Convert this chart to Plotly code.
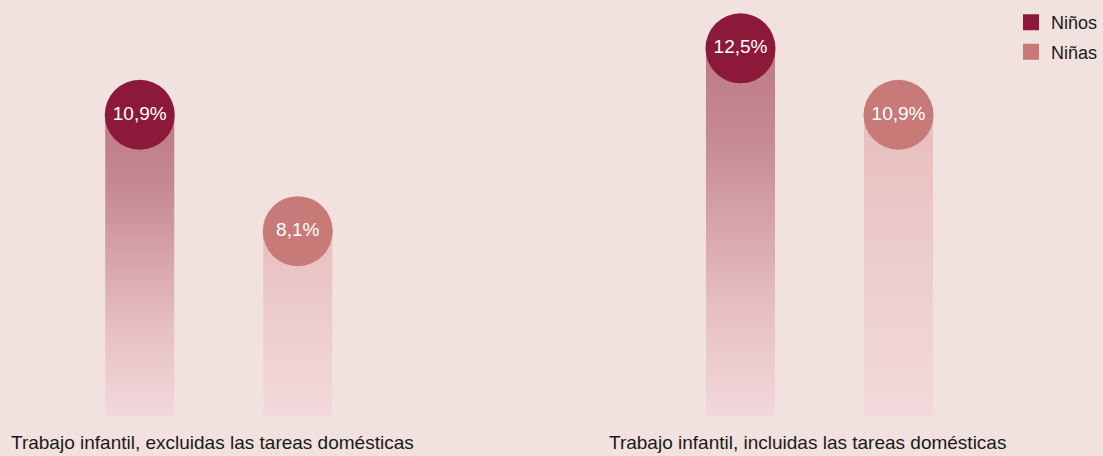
import plotly.graph_objects as go

# ---- data ----
GROUPS = ["Trabajo infantil, excluidas las tareas domésticas",
          "Trabajo infantil, incluidas las tareas domésticas"]
SERIES = ["Niños", "Niñas"]
NINOS = [10.9, 12.5]
NINAS = [8.1, 10.9]

# ---- style ----
BG = "#f1e2df"
CIRCLE_COLORS = {"Niños": "#8d193a", "Niñas": "#c77a78"}
GRADIENTS = {
    "Niños": [[0, "#f2d8db"], [0.3, "#e6bfc1"], [0.75, "#c68a92"], [1, "#bd7b84"]],
    "Niñas": [[0, "#f3d9db"], [0.3, "#efd2d3"], [1, "#e6bfbd"]],
}
BASE = 3.652          # value at the bottom of the bars (axis floor)
TOP = 13.662
OFFSET = 0.1315       # bar offset from group centre (x units)
WIDTH = 0.1149        # bar width (x units)
LABEL_XSHIFT = [-6, -12]
FONT = "Liberation Sans, Arial, Helvetica, sans-serif"


def fmt(v):
    return f"{v:.1f}".replace(".", ",") + "%"


fig = go.Figure()
values = {"Niños": NINOS, "Niñas": NINAS}
sign = {"Niños": -1, "Niñas": 1}

# gradient bars
for s in SERIES:
    for gi, v in enumerate(values[s]):
        c = gi + sign[s] * OFFSET
        x0, x1 = c - WIDTH / 2, c + WIDTH / 2
        fig.add_trace(go.Scatter(
            x=[x0, x1, x1, x0, x0],
            y=[BASE, BASE, v, v, BASE],
            mode="lines", fill="toself",
            line=dict(width=0, color="rgba(0,0,0,0)"),
            fillgradient=dict(type="vertical", colorscale=GRADIENTS[s]),
            hoverinfo="skip", showlegend=False,
        ))

# circles with labels
for s in SERIES:
    xs = [gi + sign[s] * OFFSET for gi in range(len(GROUPS))]
    fig.add_trace(go.Scatter(
        x=xs, y=values[s], mode="markers+text",
        marker=dict(size=70, color=CIRCLE_COLORS[s], line=dict(width=0)),
        text=[fmt(v) for v in values[s]], textposition="middle center",
        textfont=dict(color="white", size=19, family=FONT),
        showlegend=False, hoverinfo="skip",
    ))

# legend entries
for s in SERIES:
    fig.add_trace(go.Scatter(
        x=[None], y=[None], mode="markers", name=s, legendgroup=s,
        marker=dict(symbol="square", size=20, color=CIRCLE_COLORS[s]),
    ))

# group labels
for gi, g in enumerate(GROUPS):
    fig.add_annotation(
        x=gi, y=0, xref="x", yref="paper", yanchor="top",
        xshift=LABEL_XSHIFT[gi], yshift=-14, text=g, showarrow=False,
        font=dict(size=19, color="#1a1a1a", family=FONT),
    )

fig.update_layout(
    width=1103, height=456,
    margin=dict(l=0, r=0, t=0, b=40),
    paper_bgcolor=BG, plot_bgcolor=BG,
    xaxis=dict(range=[-0.3641, 1.4719], visible=False, fixedrange=True),
    yaxis=dict(range=[BASE, TOP], visible=False, fixedrange=True),
    legend=dict(x=1, y=0.99, xanchor="right", yanchor="top",
                font=dict(size=18, color="#1a1a1a", family=FONT),
                tracegroupgap=3,
                bgcolor="rgba(0,0,0,0)", itemclick=False),
    showlegend=True,
)

fig.write_html(
    "out.html",
    config={"displayModeBar": False},
    post_script="document.body.style.margin='0';document.body.style.background='%s';" % BG,
)
